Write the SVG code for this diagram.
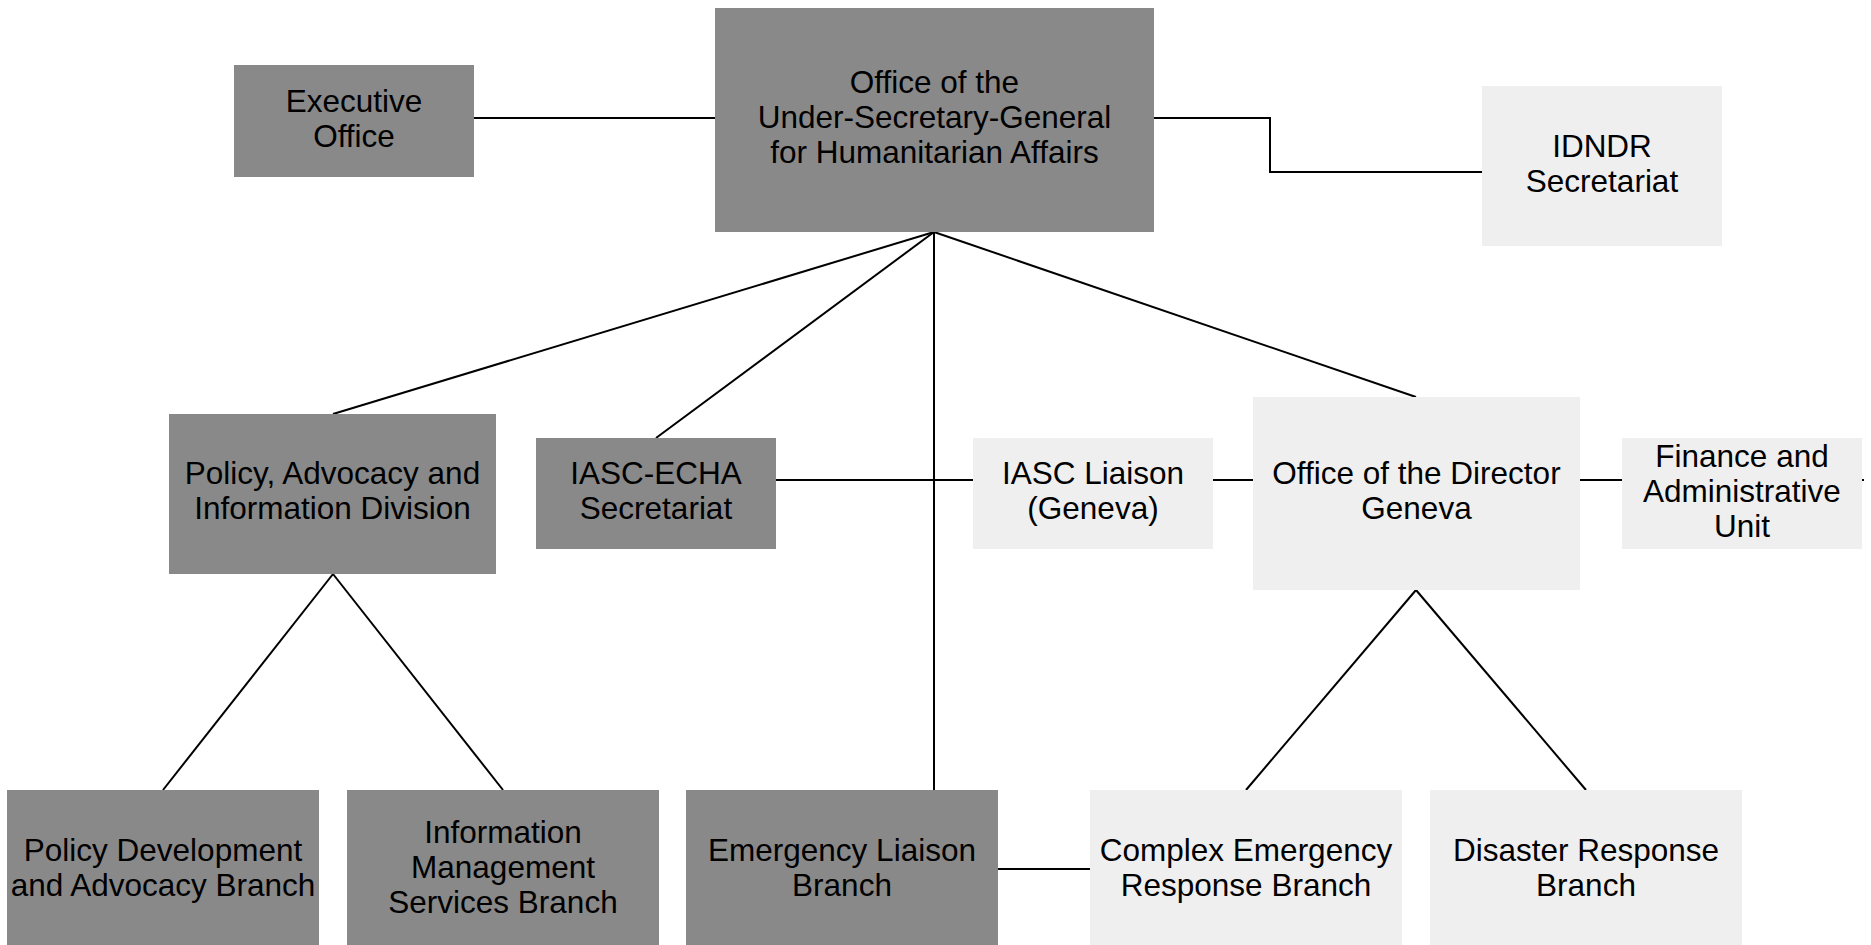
<svg xmlns="http://www.w3.org/2000/svg" width="1871" height="945" viewBox="0 0 1871 945">
<style>
.dark{fill:#898989}
.light{fill:#efefef}
text{font-family:"Liberation Sans",Arial,sans-serif;font-size:31.5px;fill:#000;text-anchor:middle}
.c line,.c polyline{stroke:#000;stroke-width:2;fill:none}
</style>
<rect width="1871" height="945" fill="#fff"/>
<g class="c" id="connectors">
<line x1="474" y1="118" x2="715" y2="118"/>
<polyline points="1154,118 1270,118 1270,172 1482,172"/>
<line x1="934" y1="232" x2="333" y2="414"/>
<line x1="934" y1="232" x2="656" y2="438"/>
<line x1="934" y1="232" x2="934" y2="790"/>
<line x1="934" y1="232" x2="1416" y2="397"/>
<line x1="776" y1="480" x2="973" y2="480"/>
<line x1="1213" y1="480" x2="1253" y2="480"/>
<line x1="1580" y1="480" x2="1622" y2="480"/>
<line x1="1862" y1="480" x2="1864" y2="480"/>
<line x1="333" y1="574" x2="163" y2="790"/>
<line x1="333" y1="574" x2="503" y2="790"/>
<line x1="1416" y1="590" x2="1246" y2="790"/>
<line x1="1416" y1="590" x2="1586" y2="790"/>
<line x1="998" y1="869" x2="1090" y2="869"/>
</g>
<g id="executive-office"><rect class="dark" x="234" y="65" width="240" height="112"/><text x="354" y="111.5">Executive</text><text x="354" y="146.5">Office</text></g>
<g id="usg"><rect class="dark" x="715" y="8" width="439" height="224"/><text x="934.5" y="93">Office of the</text><text x="934.5" y="128">Under-Secretary-General</text><text x="934.5" y="163">for Humanitarian Affairs</text></g>
<g id="idndr"><rect class="light" x="1482" y="86" width="240" height="160"/><text x="1602" y="156.5">IDNDR</text><text x="1602" y="191.5">Secretariat</text></g>
<g id="paid"><rect class="dark" x="169" y="414" width="327" height="160"/><text x="332.5" y="484">Policy, Advocacy and</text><text x="332.5" y="519">Information Division</text></g>
<g id="iasc-echa"><rect class="dark" x="536" y="438" width="240" height="111"/><text x="656" y="484">IASC-ECHA</text><text x="656" y="519">Secretariat</text></g>
<g id="iasc-liaison"><rect class="light" x="973" y="438" width="240" height="111"/><text x="1093" y="484">IASC Liaison</text><text x="1093" y="519">(Geneva)</text></g>
<g id="director-geneva"><rect class="light" x="1253" y="397" width="327" height="193"/><text x="1416.5" y="484">Office of the Director</text><text x="1416.5" y="519">Geneva</text></g>
<g id="finance"><rect class="light" x="1622" y="438" width="240" height="111"/><text x="1742" y="467">Finance and</text><text x="1742" y="502">Administrative</text><text x="1742" y="537">Unit</text></g>
<g id="policy-dev"><rect class="dark" x="7" y="790" width="312" height="160"/><text x="163" y="861">Policy Development</text><text x="163" y="896">and Advocacy Branch</text></g>
<g id="info-mgmt"><rect class="dark" x="347" y="790" width="312" height="160"/><text x="503" y="843">Information</text><text x="503" y="878">Management</text><text x="503" y="913">Services Branch</text></g>
<g id="emergency-liaison"><rect class="dark" x="686" y="790" width="312" height="160"/><text x="842" y="861">Emergency Liaison</text><text x="842" y="896">Branch</text></g>
<g id="complex-emergency"><rect class="light" x="1090" y="790" width="312" height="160"/><text x="1246" y="861">Complex Emergency</text><text x="1246" y="896">Response Branch</text></g>
<g id="disaster-response"><rect class="light" x="1430" y="790" width="312" height="160"/><text x="1586" y="861">Disaster Response</text><text x="1586" y="896">Branch</text></g>
</svg>
